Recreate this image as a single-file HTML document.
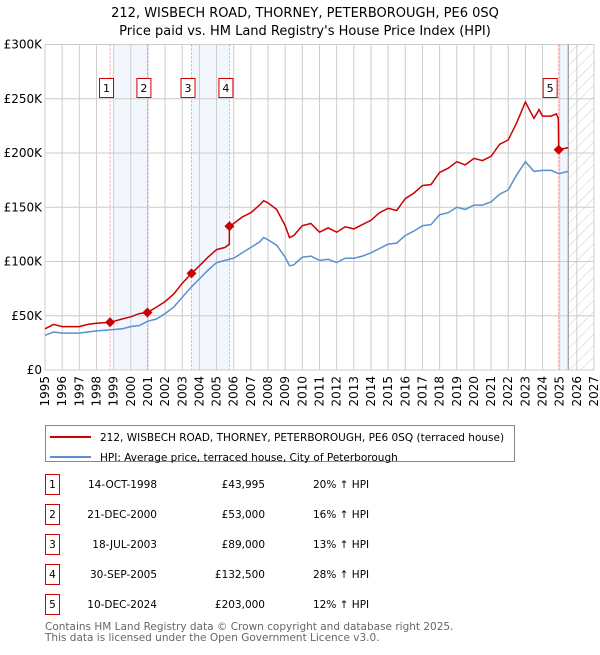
<!DOCTYPE html>
<html><head><meta charset="utf-8"><style>
body{margin:0;background:#fff;font-family:"Liberation Sans","DejaVu Sans",sans-serif;}
svg text{font-family:"DejaVu Sans","Liberation Sans",sans-serif;}
</style></head><body>
<svg id="chart" width="600" height="650" xmlns="http://www.w3.org/2000/svg">
<defs><pattern id="hatch" patternUnits="userSpaceOnUse" width="8" height="8" patternTransform="rotate(45)"><line x1="0" y1="0" x2="0" y2="8" stroke="#ccc" stroke-width="1"/></pattern></defs>
<text x="305" y="17" font-size="13" text-anchor="middle">212, WISBECH ROAD, THORNEY, PETERBOROUGH, PE6 0SQ</text>
<text x="305" y="35" font-size="13" text-anchor="middle">Price paid vs. HM Land Registry's House Price Index (HPI)</text>
<g id="plot"></g>
<rect x="45.5" y="425.5" width="469" height="36" fill="#fff" stroke="#888"/>
<line x1="50" y1="437" x2="91" y2="437" stroke="#cc0000" stroke-width="2"/>
<text x="100" y="441" font-size="10.5">212, WISBECH ROAD, THORNEY, PETERBOROUGH, PE6 0SQ (terraced house)</text>
<line x1="50" y1="457" x2="91" y2="457" stroke="#5b8fd0" stroke-width="2"/>
<text x="100" y="461" font-size="10.5">HPI: Average price, terraced house, City of Peterborough</text>
<g id="table"></g>
<text x="45" y="630" font-size="10.5" fill="#666">Contains HM Land Registry data © Crown copyright and database right 2025.</text>
<text x="45" y="641" font-size="10.5" fill="#666">This data is licensed under the Open Government Licence v3.0.</text>
</svg>
<script>
const hpiYears=[1995,1995.5,1996,1997,1997.5,1998,1998.8,1999.5,2000,2000.5,2001,2001.5,2002,2002.5,2003,2003.5,2004,2004.5,2005,2005.5,2006,2006.5,2007,2007.5,2007.75,2008,2008.5,2009,2009.25,2009.5,2010,2010.5,2011,2011.5,2012,2012.5,2013,2013.5,2014,2014.5,2015,2015.5,2016,2016.5,2017,2017.5,2018,2018.5,2019,2019.5,2020,2020.5,2021,2021.5,2022,2022.5,2023,2023.5,2024,2024.5,2024.95,2025.5];
const hpiValues=[32,35,34,34,35,36,37,38,40,41,45,47,52,58,67,76,84,92,99,101,103,108,113,118,122,120,115,104,96,97,104,105,101,102,99,103,103,105,108,112,116,117,124,128,133,134,143,145,150,148,152,152,155,162,166,180,192,183,184,184,181,183];
const propYears=[1995,1995.5,1996,1997,1997.5,1998,1998.79,1999.5,2000,2000.5,2000.97,2001.5,2002,2002.5,2003,2003.54,2004,2004.5,2005,2005.5,2005.74,2005.75,2006,2006.5,2007,2007.5,2007.75,2008,2008.5,2009,2009.25,2009.5,2010,2010.5,2011,2011.5,2012,2012.5,2013,2013.5,2014,2014.5,2015,2015.5,2016,2016.5,2017,2017.5,2018,2018.5,2019,2019.5,2020,2020.5,2021,2021.5,2022,2022.5,2023,2023.3,2023.5,2023.8,2024,2024.5,2024.8,2024.92,2024.94,2025.5];
const propValues=[38,42,40,40,42,43,44,47,49,52,53,58,63,70,80,89,96,104,111,113,116,132.5,135,141,145,152,156,154,148,133,122,124,133,135,127,131,127,132,130,134,138,145,149,147,158,163,170,171,182,186,192,189,195,193,197,208,212,228,247,238,232,240,234,234,236,232,203,205];
const saleLabels=["1","2","3","4","5"];
const saleYears=[1998.79,2000.97,2003.54,2005.75,2024.94];
const saleValues=[43.995,53,89,132.5,203];
const saleDates=["14-OCT-1998","21-DEC-2000","18-JUL-2003","30-SEP-2005","10-DEC-2024"];
const salePrices=["£43,995","£53,000","£89,000","£132,500","£203,000"];
const saleHpi=["20% ↑ HPI","16% ↑ HPI","13% ↑ HPI","28% ↑ HPI","12% ↑ HPI"];
const yTicks=[0,50,100,150,200,250,300];
const yTickLabels=["£0","£50K","£100K","£150K","£200K","£250K","£300K"];
const bandStarts=[1999.05,2003.54,2024.94];
const bandEnds=[2000.97,2005.75,2025.5];
const nowYear=2025.5;

const X0=45,X1=594,Y0=370,Y1=44.5,xmin=1995,xmax=2027,ymax=300;
const xs=v=>X0+(v-xmin)/(xmax-xmin)*(X1-X0);
const ys=v=>Y0-v/ymax*(Y0-Y1);
const NS="http://www.w3.org/2000/svg";
const plot=document.getElementById('plot');
function mk(tag,attrs,parent){const e=document.createElementNS(NS,tag);for(const k in attrs)e.setAttribute(k,attrs[k]);(parent||plot).appendChild(e);return e;}

for(let i=0;i<bandStarts.length;i++){
 const r=mk('rect',{x:xs(bandStarts[i]),y:Y1,width:xs(bandEnds[i])-xs(bandStarts[i]),height:Y0-Y1,fill:'#f2f6fd'});
 
 
}
const h=mk('rect',{x:xs(nowYear),y:Y1,width:X1-xs(nowYear),height:Y0-Y1,fill:'url(#hatch)'});


for(let y=xmin;y<=xmax;y++){
 const l=mk('line',{x1:xs(y),x2:xs(y),y1:Y1,y2:Y0,stroke:'#ccc','stroke-width':1});
 
 
 const t=mk('text',{transform:`translate(${xs(y)+4},376) rotate(-90)`,'font-size':12,'text-anchor':'end'});
 t.textContent=y;
 
 
}
yTicks.forEach((v,i)=>{
 const l=mk('line',{x1:X0,x2:X1,y1:ys(v),y2:ys(v),stroke:'#ccc','stroke-width':1});
 
 
 const t=mk('text',{x:X0-3,y:ys(v)+4,'font-size':12,'text-anchor':'end'});
 t.textContent=yTickLabels[i];
 
 
});
const nl=mk('line',{x1:xs(nowYear),x2:xs(nowYear),y1:Y1,y2:Y0,stroke:'#999','stroke-width':1.2});


saleYears.forEach((y,i)=>{
 const l=mk('line',{x1:xs(y),x2:xs(y),y1:Y1,y2:Y0,stroke:'#ff7777','stroke-width':0.8,'stroke-dasharray':'2,2'});
 
 
 const bx=xs(y)-(i==4?12:7)-3;
 const r=mk('rect',{x:bx-0.5,y:78.5,width:14,height:19,fill:'#fff',stroke:'#cc0000'});
 
 
 const t=mk('text',{x:bx+6.5,y:92,'font-size':11,'text-anchor':'middle'});
 t.textContent=saleLabels[i];
 
 
});
const hp=mk('path',{d:hpiYears.map((y,i)=>(i?'L':'M')+xs(y).toFixed(1)+','+ys(hpiValues[i]).toFixed(1)).join(''),fill:'none',stroke:'#5b8fd0','stroke-width':1.5});


const pp=mk('path',{d:propYears.map((y,i)=>(i?'L':'M')+xs(y).toFixed(1)+','+ys(propValues[i]).toFixed(1)).join(''),fill:'none',stroke:'#cc0000','stroke-width':1.5});


saleYears.forEach((y,i)=>{
 const cx=xs(y),cy=ys(saleValues[i]);
 const d=mk('polygon',{points:`${cx},${cy-5} ${cx+5},${cy} ${cx},${cy+5} ${cx-5},${cy}`,fill:'#cc0000'});
 
 
});
const ax=mk('line',{x1:X0,x2:X1,y1:Y0,y2:Y0,stroke:'#ccc'});



const tbl=document.getElementById('table');
saleLabels.forEach((s,i)=>{
 const y=483+i*30;
 const r=mk('rect',{x:45.5,y:y-8.5,width:14,height:20,fill:'#fff',stroke:'#cc0000'},tbl);
 
 
 const cells=[[52.5,s,'middle'],[157,saleDates[i],'end'],[265,salePrices[i],'end'],[313,saleHpi[i],'start']];
 cells.forEach(c=>{
  const t=mk('text',{x:c[0],y:y+5,'font-size':10.5,'text-anchor':c[2]},tbl);
  t.textContent=c[1];
  
  
 });
});
</script>
</body></html>
